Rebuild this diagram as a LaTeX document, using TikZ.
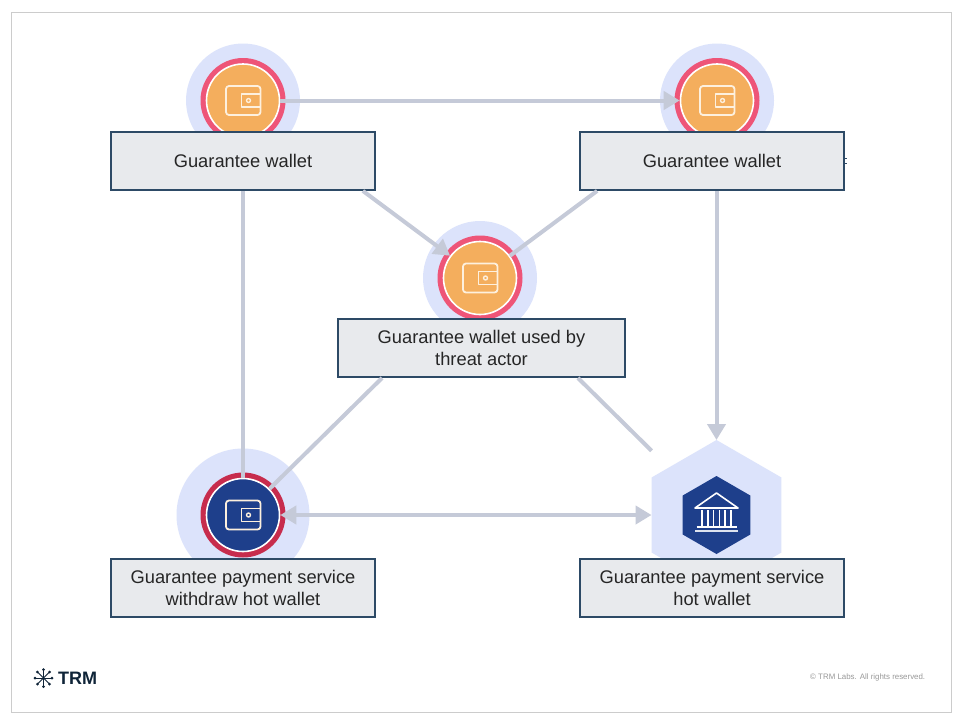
\documentclass[tikz,border=0pt]{standalone}
\usepackage{fontspec}
\setmainfont{Liberation Sans}
\usetikzlibrary{arrows.meta,shapes.geometric}
\definecolor{halo}{HTML}{DCE3FB}
\definecolor{ringpink}{HTML}{EE5578}
\definecolor{ringred}{HTML}{C72C4D}
\definecolor{discorange}{HTML}{F4AE5D}
\definecolor{discblue}{HTML}{1E3F8B}
\definecolor{boxfill}{HTML}{E8EAED}
\definecolor{boxline}{HTML}{2D4A66}
\definecolor{edgegray}{HTML}{C5CAD8}
\definecolor{logoink}{HTML}{0F2438}
\definecolor{iconline}{HTML}{FDF0DE}
\tikzset{
  x=1pt,y=-1pt,
  halobig/.style={circle,fill=halo,minimum size=114pt,inner sep=0pt,outer sep=0pt},
  halowide/.style={circle,fill=halo,minimum size=133pt,inner sep=0pt,outer sep=0pt},
  ringdisc/.style={circle,minimum size=85pt,inner sep=0pt,outer sep=0pt},
  walletdisc/.style={circle,draw=white,line width=1.6pt,minimum size=73pt,inner sep=0pt},
  hexshape/.style={regular polygon,regular polygon sides=6,shape border rotate=30,inner sep=0pt,outer sep=0pt},
  infobox/.style={rectangle,draw=boxline,fill=boxfill,line width=1.8pt,minimum width=264pt,minimum height=58pt,inner sep=2pt,align=center,
     font=\fontsize{18.3}{21.5}\selectfont,text=black!85},
  link/.style={draw=edgegray,line width=4pt},
  tip/.style={-{Triangle[length=16pt,width=18pt]}},
  icon/.style={draw=iconline,line width=1.8pt,line join=round},
}
\newcommand{\walleticon}[2]{%
  \begin{scope}[shift={(#1,#2)}]
    \draw[icon,rounded corners=3pt] (-17,-14.5) rectangle (17.5,14.5);
    \draw[icon] (17.5,-6.5) -- (-1.5,-6.5) -- (-1.5,6.5) -- (17.5,6.5);
    \draw[icon,line width=1.4pt] (5.5,0) circle (2pt);
  \end{scope}}
\begin{document}
\begin{tikzpicture}
\useasboundingbox (0,0) rectangle (960,720);
\fill[white] (0,0) rectangle (960,720);
\draw[black!20,line width=1pt] (11,12) rectangle (951,712);
% halos and rings
\node[halobig] (h1) at (243,100.5) {};
\node[halobig] (h2) at (717,100.5) {};
\node[halobig] (h3) at (480,278) {};
\node[halowide] (h4) at (243,515) {};
\node[hexshape,fill=halo,minimum size=150pt] (hex) at (716.5,515) {};
\node[ringdisc,fill=ringpink] (r1) at (243,100.5) {};
\node[ringdisc,fill=ringpink] (r2) at (717,100.5) {};
\node[ringdisc,fill=ringpink] (r3) at (480,278) {};
\node[ringdisc,fill=ringred] (r4) at (243,515) {};
\node[walletdisc,fill=discorange] (w1) at (243,100.5) {};
\node[walletdisc,fill=discorange] (w2) at (717,100.5) {};
\node[walletdisc,fill=discorange] (w3) at (480,278) {};
\node[walletdisc,fill=discblue] (w4) at (243,515) {};
\node[hexshape,fill=discblue,minimum size=78pt] (bank) at (716.5,515) {};
\walleticon{243}{100.5}
\walleticon{717}{100.5}
\walleticon{480}{278}
\walleticon{243}{515}
% bank icon
\begin{scope}[shift={(716.5,515)}]
  \draw[icon,draw=white,line width=1.6pt] (-21.5,-7) -- (0,-22) -- (21.5,-7) -- cycle;
  \foreach \cx in {-14.5,-8.7,-2.9,2.9,8.7,14.5}
    \draw[icon,draw=white,line width=1.5pt] (\cx,-5) -- (\cx,10.5);
  \draw[icon,draw=white,line width=1.5pt] (-20,12) -- (20,12);
  \draw[icon,draw=white!85!discblue,line width=1.4pt] (-21.5,16) -- (21.5,16);
\end{scope}
% boxes
\node[infobox] (b1) at (243,161) {Guarantee wallet};
\node[infobox] (b2) at (712,161) {Guarantee wallet};
\node[infobox,minimum width=287pt] (b3) at (481.5,348) {Guarantee wallet used by\\threat actor};
\node[infobox] (b4) at (243,588) {Guarantee payment service\\withdraw hot wallet};
\node[infobox] (b5) at (712,588) {Guarantee payment service\\hot wallet};
% connectors
\draw[link,tip] (w1) -- (w2);
\draw[link,tip] ([xshift=-13pt]b1.south east) -- (w3);
\draw[link] ([xshift=18pt]b2.south west) -- (w3);
\draw[link] (b1.south) -- (w4);
\draw[link] ([xshift=45pt]b3.south west) -- (w4);
\draw[link,shorten >=24pt] ([xshift=-48pt]b3.south east) -- (hex);
\draw[link,tip] ([xshift=4.5pt]b2.south) -- (hex.north);
\draw[link,{Triangle[length=16pt,width=18pt]}-{Triangle[length=16pt,width=18pt]}] (w4) -- (hex.west);
% stray marks on the right box edge
\draw[boxline,line width=1.4pt] (844,158.5) -- (847,158.5) (844,163.5) -- (847,163.5);
% footer
\node[inner sep=0pt,anchor=west,font=\fontsize{7.9}{10}\selectfont,text=black!40] (copy) at (810,677) {© TRM Labs. All rights reserved.};
\node[inner sep=0pt,anchor=west,font=\fontsize{18}{20}\selectfont\bfseries,text=logoink] (logo) at (58,678.5) {TRM};
\begin{scope}[shift={(43.5,678)}]
  \foreach \a in {0,45,...,315} {
    \draw[logoink,line width=1pt] (0,0) -- (\a:8);
    \fill[logoink] (\a:8.5) circle (1.5pt);
  }
\end{scope}
\end{tikzpicture}
\end{document}
